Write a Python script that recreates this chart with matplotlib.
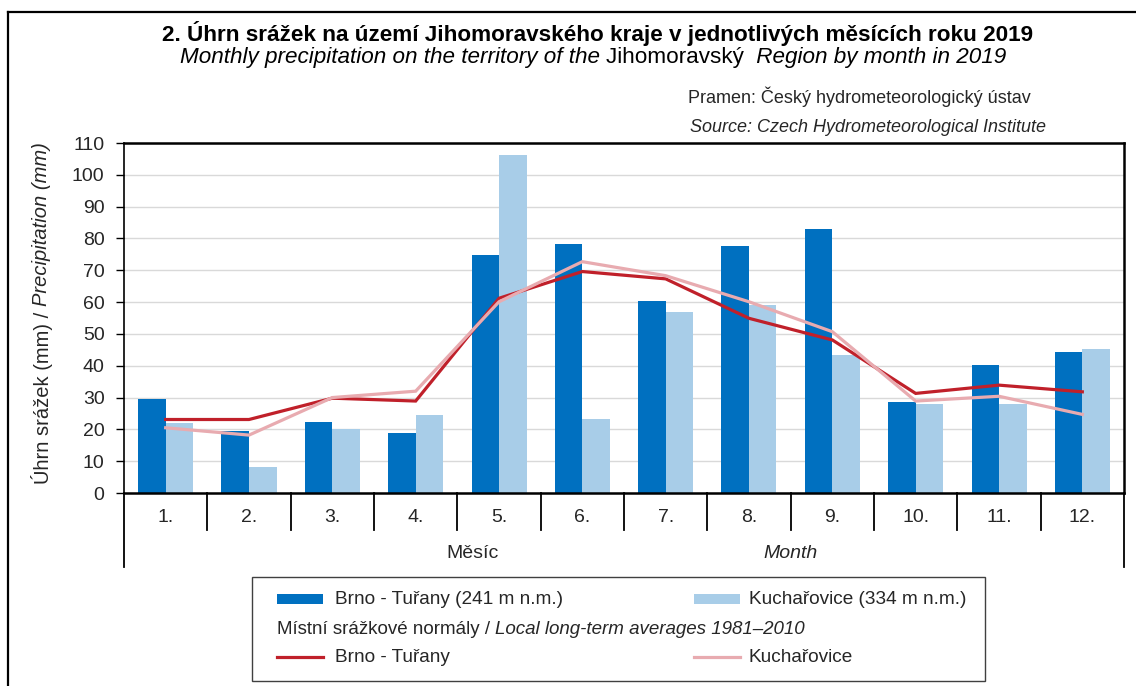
import numpy as np
import matplotlib
matplotlib.use('Agg')
import matplotlib.pyplot as plt
from matplotlib.patches import Rectangle
from matplotlib.lines import Line2D

plt.rcParams['font.family'] = ['Liberation Sans', 'DejaVu Sans']

# Data (mm)
months = ['1.', '2.', '3.', '4.', '5.', '6.', '7.', '8.', '9.', '10.', '11.', '12.']
brno_2019 = [29.4, 19.4, 22.2, 19.0, 74.8, 78.2, 60.5, 77.5, 82.9, 28.7, 40.1, 44.4]
kuch_2019 = [22.0, 8.2, 20.0, 24.5, 106.3, 23.3, 57.0, 59.1, 43.3, 27.9, 28.1, 45.2]
brno_norm = [23.1, 23.1, 29.8, 28.9, 61.2, 69.6, 67.3, 54.9, 48.1, 31.3, 33.9, 31.8]
kuch_norm = [20.5, 18.2, 30.0, 32.0, 60.1, 72.7, 68.3, 60.1, 50.7, 28.9, 30.4, 24.7]
yticks = list(range(0, 111, 10))

c_brno = '#0070c0'
c_kuch = '#a8cde8'
c_brno_l = '#c0202a'
c_kuch_l = '#e8abb0'
c_text = '#262626'

W, H = 1136, 686
fig = plt.figure(figsize=(W / 100, H / 100), dpi=100)
renderer = fig.canvas.get_renderer()


def fx(px):
    return px / W


def fy(py):
    return 1 - py / H


def mixed_text(x, y, parts, ha='center', rotation=0, **kw):
    '''Draw consecutive text pieces with different styles (pixel coords).'''
    texts = []
    for s, style in parts:
        t = fig.text(0, 0, s, style=style, rotation=rotation, va='center',
                     ha='left' if rotation == 0 else 'center', **kw)
        texts.append(t)
    sizes = []
    for t in texts:
        bb = t.get_window_extent(renderer)
        sizes.append(bb.width if rotation == 0 else bb.height)
    total = sum(sizes)
    start = x - total / 2 if ha == 'center' else x
    if rotation == 0:
        pos = start
        for t, s in zip(texts, sizes):
            t.set_position((fx(pos), fy(y)))
            pos += s
    else:
        # rotated 90: build upward from bottom y
        pos = y + total / 2
        for t, s in zip(texts, sizes):
            t.set_position((fx(x), fy(pos)))
            t.set_va('bottom')
            pos -= s
    return texts


# Outer frame
fig.add_artist(Line2D([fx(8), fx(8)], [fy(12), fy(686)], color='black', lw=1.6))
fig.add_artist(Line2D([fx(8), fx(1136)], [fy(12), fy(12)], color='black', lw=1.6))

# Titles
fig.text(fx(598), fy(33), '2. Úhrn srážek na území Jihomoravského kraje v jednotlivých měsících roku 2019',
         ha='center', va='center', fontsize=16.2, fontweight='bold', color='black')
mixed_text(593, 57, [('Monthly precipitation on the territory of the ', 'italic'),
                     ('Jihomoravský ', 'normal'),
                     (' Region by month in 2019', 'italic')],
           fontsize=16.2, color='black')
fig.text(fx(688), fy(97), 'Pramen: Český hydrometeorologický ústav',
         ha='left', va='center', fontsize=13, color=c_text)
fig.text(fx(690), fy(128), 'Source: Czech Hydrometeorological Institute',
         ha='left', va='center', fontsize=13, style='italic', color=c_text)

# Main axes
ax = fig.add_axes([fx(124), fy(493), fx(1124) - fx(124), fy(143) - fy(493)])
x = np.arange(len(months))
bw = 0.33
ax.bar(x - bw / 2, brno_2019, width=bw, color=c_brno, zorder=2)
ax.bar(x + bw / 2, kuch_2019, width=bw, color=c_kuch, zorder=2)
ax.plot(x, brno_norm, color=c_brno_l, lw=2.3, zorder=3, solid_joinstyle='miter')
ax.plot(x, kuch_norm, color=c_kuch_l, lw=2.3, zorder=3, solid_joinstyle='miter')

ax.set_xlim(-0.5, len(months) - 0.5)
ax.set_ylim(0, 110)
ax.set_yticks(yticks)
ax.set_yticklabels([str(v) for v in yticks], fontsize=14, color=c_text)
ax.tick_params(axis='y', length=6, width=1, color='black', pad=8)
ax.set_xticks([])
ax.yaxis.grid(True, color='#d9d9d9', lw=1.0, zorder=0)
ax.set_axisbelow(True)
for side in ['top', 'right', 'bottom']:
    ax.spines[side].set_linewidth(1.8)
ax.spines['left'].set_linewidth(1.2)

# Category axis (two levels)
trans = ax.get_xaxis_transform()
ax_h = fy(143) - fy(493)
for i in range(len(months) + 1):
    xb = i - 0.5
    ybot = fy(567) if i in (0, len(months)) else fy(530)
    ax.plot([xb, xb], [0, (ybot - fy(493)) / ax_h], transform=trans,
            color='black', lw=1.3, clip_on=False)
for i, m in enumerate(months):
    ax.text(i, (fy(518) - fy(493)) / ax_h, m, transform=trans,
            ha='center', va='center', fontsize=14, color=c_text)
fig.text(fx(472), fy(553), 'Měsíc', ha='center', va='center', fontsize=14, color=c_text)
fig.text(fx(791), fy(553), 'Month', ha='center', va='center', fontsize=14,
         style='italic', color=c_text)

# Y label
mixed_text(42, 313, [('Úhrn srážek (mm) / ', 'normal'), ('Precipitation (mm)', 'italic')],
           rotation=90, fontsize=14.5, color=c_text)

# Legend (drawn by hand)
fig.add_artist(Rectangle((fx(252), fy(681)), fx(985) - fx(252), fy(577) - fy(681),
                         facecolor='white', edgecolor='#404040', lw=1.0))
fig.add_artist(Rectangle((fx(277), fy(604)), fx(46), fy(594) - fy(604),
                         facecolor=c_brno, edgecolor='none'))
fig.add_artist(Rectangle((fx(694), fy(604)), fx(46), fy(594) - fy(604),
                         facecolor=c_kuch, edgecolor='none'))
fig.text(fx(335), fy(599), 'Brno - Tuřany (241 m n.m.)', va='center', fontsize=13.7, color=c_text)
fig.text(fx(749), fy(599), 'Kuchařovice (334 m n.m.)', va='center', fontsize=13.7, color=c_text)
mixed_text(277, 629, [('Místní srážkové normály / ', 'normal'),
                      ('Local long-term averages 1981–2010', 'italic')],
           ha='left', fontsize=13.5, color=c_text)
fig.add_artist(Line2D([fx(277), fx(323)], [fy(657), fy(657)], color=c_brno_l, lw=2.3))
fig.add_artist(Line2D([fx(694), fx(740)], [fy(657), fy(657)], color=c_kuch_l, lw=2.3))
fig.text(fx(335), fy(657), 'Brno - Tuřany', va='center', fontsize=13.7, color=c_text)
fig.text(fx(749), fy(657), 'Kuchařovice', va='center', fontsize=13.7, color=c_text)

fig.savefig('out.png', dpi=100)
